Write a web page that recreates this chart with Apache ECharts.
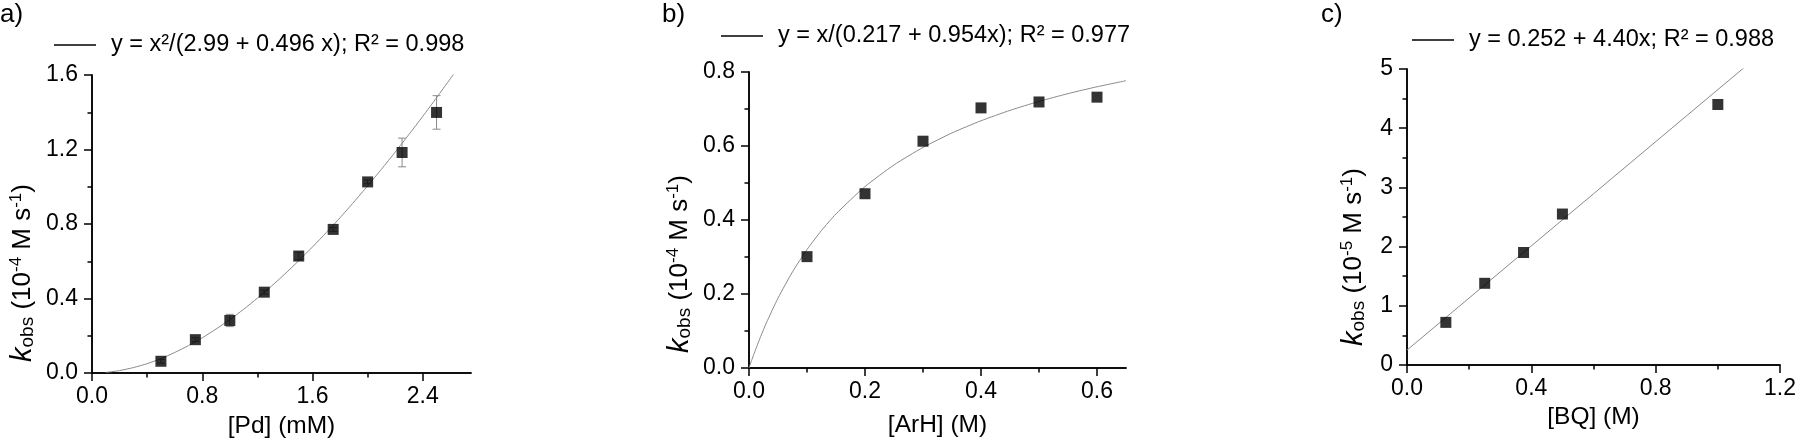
<!DOCTYPE html>
<html>
<head>
<meta charset="utf-8">
<script src="https://cdn.jsdelivr.net/npm/echarts@6/dist/echarts.min.js"></script>
<style>html,body{margin:0;padding:0;background:#fff}#c{width:1800px;height:445px}</style>
</head>
<body>
<div id="c"></div>
<script>
// ---------- DATA ----------
// Panel a: [Pd] (mM) vs kobs (1e-4 M s-1)
const pdX = [0.5, 0.75, 1.0, 1.25, 1.5, 1.75, 2.0, 2.25, 2.5];
const pdY = [0.063, 0.179, 0.282, 0.434, 0.628, 0.771, 1.026, 1.184, 1.399];
const pdErr = [0.01, 0.01, 0.033, 0.01, 0.02, 0.01, 0.01, 0.077, 0.09];
const pdFitX = [0.1, 0.2, 0.3, 0.4, 0.5, 0.6, 0.7, 0.8, 0.9, 1.0, 1.1, 1.2, 1.3, 1.4, 1.5, 1.6, 1.7, 1.8, 1.9, 2.0, 2.1, 2.2, 2.3, 2.4, 2.5, 2.6, 2.7];
const pdFitY = [0.003, 0.013, 0.029, 0.050, 0.077, 0.110, 0.147, 0.189, 0.236, 0.287, 0.342, 0.402, 0.465, 0.532, 0.603, 0.677, 0.754, 0.834, 0.918, 1.005, 1.094, 1.186, 1.281, 1.378, 1.478, 1.580, 1.684];
const pdLegend = 'y = x²/(2.99 + 0.496 x); R² = 0.998';

// Panel b: [ArH] (M) vs kobs (1e-4 M s-1)
const arX = [0.1, 0.2, 0.3, 0.4, 0.5, 0.6];
const arY = [0.301, 0.471, 0.613, 0.703, 0.719, 0.732];
const arFitX = [0, 0.005, 0.01, 0.02, 0.03, 0.05, 0.075, 0.1, 0.125, 0.15, 0.2, 0.25, 0.3, 0.35, 0.4, 0.45, 0.5, 0.55, 0.6, 0.65];
const arFitY = [0, 0.0226, 0.0441, 0.0847, 0.1221, 0.1889, 0.2599, 0.3201, 0.3717, 0.4165, 0.4904, 0.5488, 0.5962, 0.6353, 0.6682, 0.6963, 0.7205, 0.7415, 0.7601, 0.7765];
const arLegend = 'y = x/(0.217 + 0.954x); R² = 0.977';

// Panel c: [BQ] (M) vs kobs (1e-5 M s-1)
const bqX = [0.125, 0.25, 0.375, 0.5, 1.0];
const bqY = [0.72, 1.38, 1.90, 2.55, 4.40];
const bqFitX = [0, 0.6, 1.2];
const bqFitY = [0.252, 2.892, 5.532];
const bqLegend = 'y = 0.252 + 4.40x; R² = 0.988';

// Ticks
const aXMajor = [0, 0.8, 1.6, 2.4], aXMinor = [0.4, 1.2, 2.0];
const aYMajor = [0, 0.4, 0.8, 1.2, 1.6], aYMinor = [0.2, 0.6, 1.0, 1.4];
const bXMajor = [0, 0.2, 0.4, 0.6], bXMinor = [0.1, 0.3, 0.5];
const bYMajor = [0, 0.2, 0.4, 0.6, 0.8], bYMinor = [0.1, 0.3, 0.5, 0.7];
const cXMajor = [0, 0.4, 0.8, 1.2], cXMinor = [0.2, 0.6, 1.0];
const cYMajor = [0, 1, 2, 3, 4, 5], cYMinor = [0.5, 1.5, 2.5, 3.5, 4.5];

// ---------- STYLE / BUILDERS ----------
const FONT = 'Liberation Sans, Arial, Helvetica, sans-serif';
const AX = { color: '#000', width: 1.5 };
const nameRich = {
  k: { fontStyle: 'italic', fontSize: 29, fontFamily: FONT, color: '#000' },
  t: { fontSize: 26, fontFamily: FONT, color: '#000' },
  sub: { fontSize: 19, verticalAlign: 'bottom', fontFamily: FONT, color: '#000' },
  sup: { fontSize: 17, verticalAlign: 'top', fontFamily: FONT, color: '#000' }
};

function axes(dim, grid, min, max, majors, minors, fmt, name, nameGap, namePad) {
  const main = dim === 'x' ? 'bottom' : 'left';
  const opp = dim === 'x' ? 'top' : 'right';
  const base = { type: 'value', gridIndex: grid, min: min, max: max, splitLine: { show: false }, silent: true };
  return [
    Object.assign({}, base, {
      position: main,
      axisLine: { show: true, lineStyle: AX },
      axisTick: { show: true, inside: false, length: 8, customValues: majors, lineStyle: AX },
      axisLabel: { show: true, customValues: majors, formatter: fmt, fontSize: 23, fontFamily: FONT, color: '#000', margin: dim === 'x' ? 12 : 14 },
      name: name, nameLocation: 'middle', nameGap: nameGap,
      nameTextStyle: { fontSize: 24.5, fontFamily: FONT, color: '#000', rich: nameRich, padding: namePad || 0 }
    }),
    Object.assign({}, base, {
      position: main,
      axisLine: { show: false },
      axisTick: { show: true, inside: false, length: 4.5, customValues: minors, lineStyle: AX },
      axisLabel: { show: false }
    }),
    Object.assign({}, base, {
      position: opp,
      axisLine: { show: true, lineStyle: AX },
      axisTick: { show: true, inside: true, length: 8, customValues: majors, lineStyle: AX },
      axisLabel: { show: false }
    }),
    Object.assign({}, base, {
      position: opp,
      axisLine: { show: false },
      axisTick: { show: true, inside: true, length: 4.5, customValues: minors, lineStyle: AX },
      axisLabel: { show: false }
    })
  ];
}
const f1 = v => v.toFixed(1);
const f0 = v => String(Math.round(v));

function zip(a, b) { return a.map((v, i) => [v, b[i]]); }

function errRender(params, api) {
  const x = api.value(0), lo = api.value(1), hi = api.value(2);
  const p1 = api.coord([x, lo]), p2 = api.coord([x, hi]);
  const w = 4;
  const st = { stroke: '#8a8a8a', lineWidth: 1 };
  return {
    type: 'group', children: [
      { type: 'line', shape: { x1: p1[0], y1: p1[1], x2: p2[0], y2: p2[1] }, style: st },
      { type: 'line', shape: { x1: p1[0] - w, y1: p1[1], x2: p1[0] + w, y2: p1[1] }, style: st },
      { type: 'line', shape: { x1: p2[0] - w, y1: p2[1], x2: p2[0] + w, y2: p2[1] }, style: st }
    ]
  };
}

const yNameA = '{k|k}{sub|obs}{t| (10}{sup|-4}{t| M s}{sup|-1}{t|)}';
const yNameC = '{k|k}{sub|obs}{t| (10}{sup|-5}{t| M s}{sup|-1}{t|)}';

const xAxes = [].concat(
  axes('x', 0, 0, 2.75, aXMajor, aXMinor, f1, '[Pd] (mM)', 41),
  axes('x', 1, 0, 0.65, bXMajor, bXMinor, f1, '[ArH] (M)', 45),
  axes('x', 2, 0, 1.2, cXMajor, cXMinor, f1, '[BQ] (M)', 38)
);
const yAxes = [].concat(
  axes('y', 0, 0, 1.6, aYMajor, aYMinor, f1, yNameA, 55, [0, 98, 0, 0]),
  axes('y', 1, 0, 0.8, bYMajor, bYMinor, f1, yNameA, 55, [0, 88, 0, 0]),
  axes('y', 2, 0, 5, cYMajor, cYMinor, f0, yNameC, 39, [0, 80, 0, 0])
);

function legend(name, left, top) {
  return {
    data: [name], left: left, top: top, padding: 0, icon: 'rect', itemWidth: 42, itemHeight: 1.4,
    itemStyle: { color: '#000', borderWidth: 0 }, lineStyle: { color: '#000', width: 1.4 }, selectedMode: false,
    textStyle: { fontSize: 23.5, fontFamily: FONT, color: '#000', lineHeight: 26, padding: [0, 0, 0, 10] }
  };
}
function titleT(text, left) {
  return { text: text, left: left, top: 2, padding: 0, textStyle: { fontSize: 26, fontWeight: 'normal', fontFamily: FONT, color: '#000' } };
}

const option = {
  backgroundColor: '#fff',
  animation: false,
  title: [titleT('a)', 0), titleT('b)', 662), titleT('c)', 1321)],
  legend: [legend(pdLegend, 54, 32), legend(arLegend, 721, 23), legend(bqLegend, 1412, 27)],
  grid: [
    { left: 92, top: 75, width: 379, height: 298 },
    { left: 749, top: 72, width: 377, height: 296 },
    { left: 1407, top: 69, width: 373, height: 296 }
  ],
  xAxis: xAxes,
  yAxis: yAxes,
  series: [
    { name: pdLegend, type: 'line', xAxisIndex: 0, yAxisIndex: 0, data: zip(pdFitX, pdFitY), showSymbol: false, symbol: 'none', smooth: 0.2, lineStyle: { color: '#8a8a8a', width: 1 }, itemStyle: { color: '#8a8a8a' }, z: 2 },
    { type: 'custom', xAxisIndex: 0, yAxisIndex: 0, renderItem: errRender, data: pdX.map((x, i) => [x, pdY[i] - pdErr[i], pdY[i] + pdErr[i]]), z: 3 },
    { type: 'scatter', xAxisIndex: 0, yAxisIndex: 0, data: zip(pdX, pdY), symbol: 'rect', symbolSize: 11, itemStyle: { color: '#000' }, z: 4 },

    { name: arLegend, type: 'line', xAxisIndex: 4, yAxisIndex: 4, data: zip(arFitX, arFitY), showSymbol: false, symbol: 'none', smooth: 0.2, lineStyle: { color: '#8a8a8a', width: 1 }, itemStyle: { color: '#8a8a8a' }, z: 2 },
    { type: 'scatter', xAxisIndex: 4, yAxisIndex: 4, data: zip(arX, arY), symbol: 'rect', symbolSize: 11, itemStyle: { color: '#000' }, z: 4 },

    { name: bqLegend, type: 'line', xAxisIndex: 8, yAxisIndex: 8, data: zip(bqFitX, bqFitY), showSymbol: false, symbol: 'none', lineStyle: { color: '#8a8a8a', width: 1 }, itemStyle: { color: '#8a8a8a' }, z: 2 },
    { type: 'scatter', xAxisIndex: 8, yAxisIndex: 8, data: zip(bqX, bqY), symbol: 'rect', symbolSize: 11, itemStyle: { color: '#000' }, z: 4 }
  ]
};

const chart = echarts.init(document.getElementById('c'), null, { renderer: 'canvas' });
chart.setOption(option);
</script>
</body>
</html>
